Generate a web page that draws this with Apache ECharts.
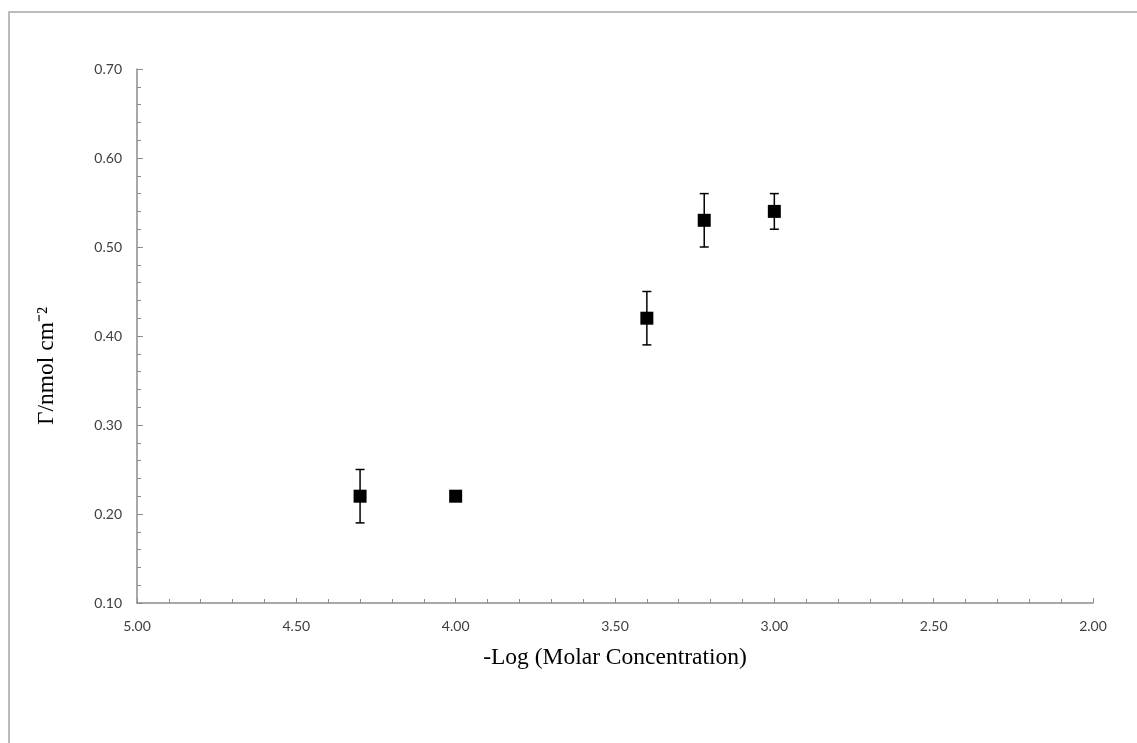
<!DOCTYPE html>
<html>
<head>
<meta charset="utf-8">
<script src="https://cdn.jsdelivr.net/npm/echarts@6/dist/echarts.min.js"></script>
<style>
  html, body { margin: 0; padding: 0; background: #fff; }
  #chart { width: 1137px; height: 743px; }
</style>
</head>
<body>
<div id="chart"></div>
<script>
// Surface excess vs. -log concentration
var logConc   = [4.30, 4.00, 3.40, 3.22, 3.00];
var gamma     = [0.22, 0.22, 0.42, 0.53, 0.54];
var errLow    = [0.19, null, 0.39, 0.50, 0.52];
var errHigh   = [0.25, null, 0.45, 0.56, 0.56];

var xTitle = '-Log (Molar Concentration)';
var yTitle = 'Γ/nmol cm⁻²';

var points = logConc.map(function (x, i) { return [x, gamma[i]]; });
var bars = [];
logConc.forEach(function (x, i) {
  if (errLow[i] != null) bars.push([x, errLow[i], errHigh[i]]);
});

var chart = echarts.init(document.getElementById('chart'));

var axisColor = '#8c8c8c';
var labelStyle = { color: '#404040', fontFamily: 'Lato', fontSize: 14 };

chart.setOption({
  animation: false,
  backgroundColor: '#fff',
  graphic: [{
    type: 'rect',
    shape: { x: 9, y: 12, width: 1300, height: 900 },
    style: { fill: 'none', stroke: '#a6a6a6', lineWidth: 1.5 },
    silent: true
  }],
  grid: { left: 137, top: 69, right: 44, bottom: 140 },
  xAxis: {
    type: 'value',
    inverse: true,
    min: 2, max: 5, interval: 0.5,
    name: xTitle,
    nameLocation: 'middle',
    nameGap: 43,
    nameTextStyle: { fontFamily: 'Liberation Serif', fontSize: 23.5, color: '#000' },
    axisLine: { show: true, lineStyle: { color: axisColor, width: 1.5 } },
    axisTick: { show: true, inside: true, length: 5, lineStyle: { color: axisColor } },
    minorTick: { show: true, splitNumber: 5, length: 4, lineStyle: { color: axisColor } },
    splitLine: { show: false },
    axisLabel: Object.assign({ margin: 16, formatter: function (v) { return v.toFixed(2); } }, labelStyle)
  },
  yAxis: {
    type: 'value',
    min: 0.1, max: 0.7, interval: 0.1,
    name: yTitle,
    nameLocation: 'middle',
    nameRotate: 90,
    nameGap: 78,
    nameTextStyle: { fontFamily: 'Liberation Serif', fontSize: 23.5, color: '#000', padding: [0, 60, 0, 0] },
    axisLine: { show: true, lineStyle: { color: axisColor, width: 1.5 } },
    axisTick: { show: true, inside: true, length: 6, lineStyle: { color: axisColor } },
    minorTick: { show: true, splitNumber: 5, length: 4, lineStyle: { color: axisColor } },
    splitLine: { show: false },
    axisLabel: Object.assign({ margin: 15, formatter: function (v) { return v.toFixed(2); } }, labelStyle)
  },
  series: [
    {
      type: 'custom',
      data: bars,
      z: 1,
      renderItem: function (params, api) {
        var x = api.value(0);
        var lo = api.coord([x, api.value(1)]);
        var hi = api.coord([x, api.value(2)]);
        var cap = 4.5;
        var st = { stroke: '#000', lineWidth: 1.5 };
        return {
          type: 'group',
          children: [
            { type: 'line', shape: { x1: lo[0], y1: lo[1], x2: hi[0], y2: hi[1] }, style: st },
            { type: 'line', shape: { x1: lo[0] - cap, y1: lo[1], x2: lo[0] + cap, y2: lo[1] }, style: st },
            { type: 'line', shape: { x1: hi[0] - cap, y1: hi[1], x2: hi[0] + cap, y2: hi[1] }, style: st }
          ]
        };
      }
    },
    {
      type: 'scatter',
      data: points,
      z: 2,
      symbol: 'rect',
      symbolSize: 13,
      itemStyle: { color: '#000', opacity: 1 }
    }
  ]
});
</script>
</body>
</html>
